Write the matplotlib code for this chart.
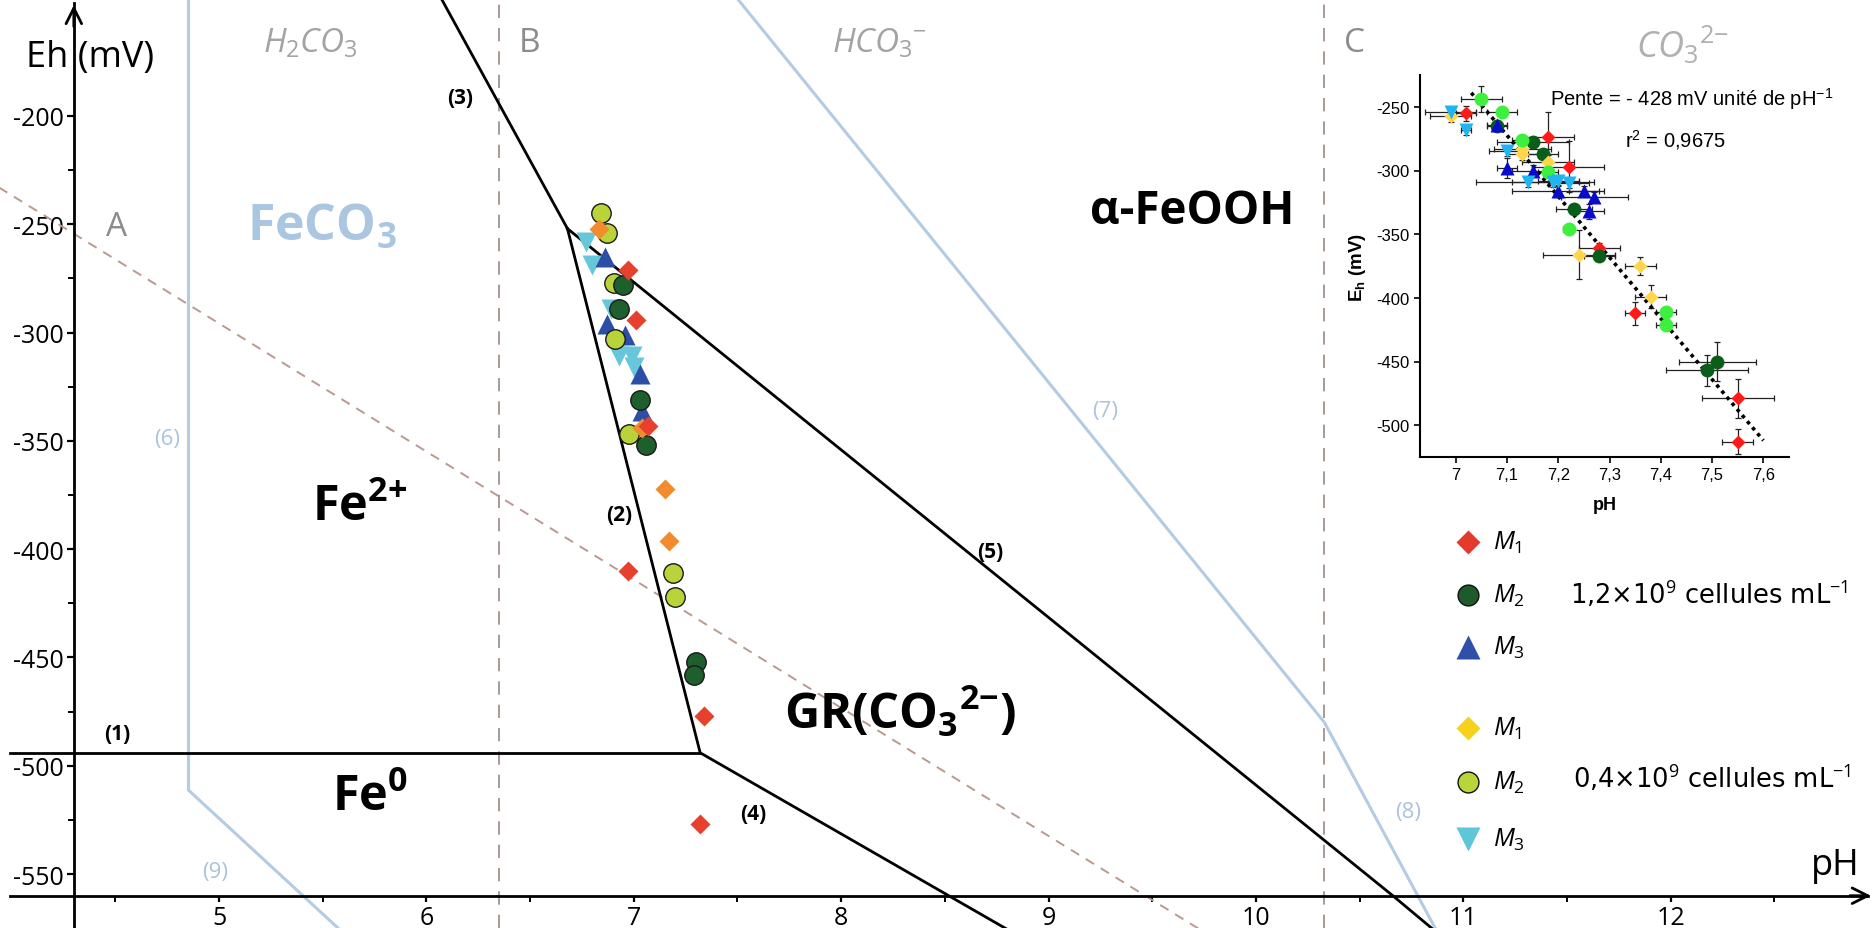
import matplotlib
matplotlib.use('Agg')
import matplotlib.pyplot as plt
from matplotlib.ticker import FixedLocator, FixedFormatter

plt.rcParams['font.family'] = ['Open Sans', 'DejaVu Sans']
plt.rcParams['mathtext.fontset'] = 'custom'
plt.rcParams['mathtext.rm'] = 'Open Sans'
plt.rcParams['mathtext.it'] = 'Open Sans:italic'
plt.rcParams['mathtext.bf'] = 'Open Sans:bold'
plt.rcParams['axes.unicode_minus'] = False

# ---------------- data : Pourbaix diagram lines (pH, Eh mV) ----------------
line1_ph, line1_eh = [3.99, 7.32], [-494, -494]
line2_ph, line2_eh = [6.68, 7.32], [-252, -494]
line3_ph, line3_eh = [6.05, 6.68], [-142, -252]
line4_ph, line4_eh = [7.32, 8.90], [-494, -581]
line5_ph, line5_eh = [6.68, 10.66, 10.86], [-252, -560, -576]
line6_ph, line6_eh = [4.85, 4.85], [-140, -511]
line9_ph, line9_eh = [4.85, 5.62], [-511, -579]
line7_ph, line7_eh = [7.45, 10.33], [-140, -480]
line8_ph, line8_eh = [10.33, 10.87], [-480, -576]
h2_ph, h2_eh = [3.90, 9.85], [-230.7, -582.7]
pka_ph = [6.35, 10.33]

x_ticks = [5, 6, 7, 8, 9, 10, 11, 12]
x_minor = [4.5, 5.5, 6.5, 7.5, 8.5, 9.5, 10.5, 11.5, 12.5]
y_ticks = [-550, -500, -450, -400, -350, -300, -250, -200]
y_minor = [-525, -475, -425, -375, -325, -275, -225]

# ---------------- data : measurements on main diagram ----------------
red_main_ph = [6.97, 7.01, 7.07, 6.97, 7.34, 7.32]
red_main_eh = [-271, -294, -343, -410, -477, -527]
org_main_ph = [6.83, 7.04, 7.15, 7.17]
org_main_eh = [-252, -344, -372, -396]
dkg_main_ph = [6.95, 6.93, 7.03, 7.06, 7.30, 7.29]
dkg_main_eh = [-278, -289, -331, -352, -452, -458]
ltg_main_ph = [6.84, 6.87, 6.905, 6.91, 6.975, 7.19, 7.20]
ltg_main_eh = [-245, -254, -277, -303, -347, -411, -422]
blu_main_ph = [6.86, 6.87, 6.96, 7.03, 7.04]
blu_main_eh = [-265, -296, -301, -319, -336]
cya_main_ph = [6.77, 6.80, 6.89, 6.93, 6.99, 7.00]
cya_main_eh = [-258, -269, -289, -311, -311, -316]

# ---------------- data : inset ----------------
red_ph = [7.02, 7.18, 7.22, 7.28, 7.35, 7.55, 7.55]
red_eh = [-255, -274, -297, -361, -412, -479, -513]
red_xe = [0.02, 0.05, 0.07, 0.04, 0.02, 0.07, 0.03]
red_ye = [6, 20, 20, 4, 9, 15, 10]
dkg_ph = [7.08, 7.15, 7.17, 7.23, 7.28, 7.49, 7.51]
dkg_eh = [-265, -278, -287, -330, -367, -457, -450]
dkg_xe = [0.02, 0.07, 0.03, 0.035, 0.03, 0.08, 0.075]
dkg_ye = [4, 4, 4, 4, 4, 12, 15]
blu_ph = [7.08, 7.10, 7.15, 7.20, 7.25, 7.27, 7.26]
blu_eh = [-264, -298, -300, -316, -316, -321, -332]
blu_xe = [0.02, 0.02, 0.04, 0.09, 0.03, 0.065, 0.03]
blu_ye = [4, 8, 4, 5, 4, 4, 6]
yel_ph = [6.99, 7.13, 7.13, 7.18, 7.24, 7.36, 7.38]
yel_eh = [-257, -283, -287, -293, -366, -375, -399]
yel_xe = [0.04, 0.055, 0.03, 0.05, 0.07, 0.03, 0.03]
yel_ye = [5, 5, 5, 5, 19, 7, 9]
grn_ph = [7.05, 7.09, 7.13, 7.18, 7.22, 7.41, 7.41]
grn_eh = [-244, -254, -276, -301, -346, -411, -421]
grn_xe = [0.04, 0.03, 0.02, 0.02, 0.01, 0.02, 0.02]
grn_ye = [10, 4, 4, 4, 3, 4, 4]
cya_ph = [6.99, 7.02, 7.10, 7.14, 7.19, 7.20, 7.22]
cya_eh = [-254, -268, -285, -309, -309, -308, -310]
cya_xe = [0.05, 0.01, 0.035, 0.10, 0.08, 0.04, 0.04]
cya_ye = [3, 4, 4, 4, 4, 4, 4]
fit_ph = [7.03, 7.60]
fit_eh = [-239, -512]
in_xticks = [7.0, 7.1, 7.2, 7.3, 7.4, 7.5, 7.6]
in_xlabels = ['7', '7,1', '7,2', '7,3', '7,4', '7,5', '7,6']
in_yticks = [-250, -300, -350, -400, -450, -500]
in_ylabels = ['-250', '-300', '-350', '-400', '-450', '-500']

# ---------------- figure ----------------
W, H = 1874, 929
fig = plt.figure(figsize=(W / 100, H / 100), dpi=100)
ax = fig.add_axes([0, 0, 1, 1])
ax.set_xlim(3.944, 12.98)
ax.set_ylim(-574.9, -146.0)
for s in ['top', 'right']:
    ax.spines[s].set_visible(False)
ax.spines['left'].set_position(('data', 4.30))
ax.spines['bottom'].set_position(('data', -560))
ax.spines['bottom'].set_bounds(3.99, 12.95)
ax.spines['left'].set_bounds(-574.9, -148)
for s in ['left', 'bottom']:
    ax.spines[s].set_linewidth(2)
ax.xaxis.set_major_locator(FixedLocator(x_ticks))
ax.xaxis.set_minor_locator(FixedLocator(x_minor))
ax.yaxis.set_major_locator(FixedLocator(y_ticks))
ax.yaxis.set_minor_locator(FixedLocator(y_minor))
ax.tick_params(which='major', length=5, width=1.6, labelsize=18, direction='out', pad=2)
ax.tick_params(which='minor', length=4, width=1.4, direction='out')
ax.tick_params(axis='x', which='major', length=4, pad=3)

ax.annotate('', xy=(12.978, -560), xytext=(12.85, -560),
            arrowprops=dict(arrowstyle='->', lw=2, color='k', mutation_scale=28))
ax.annotate('', xy=(4.30, -147.5), xytext=(4.30, -160),
            arrowprops=dict(arrowstyle='->', lw=2, color='k', mutation_scale=28))

blue_line = '#b3cbe3'
for xs, ys in [(line6_ph, line6_eh), (line9_ph, line9_eh), (line7_ph, line7_eh), (line8_ph, line8_eh)]:
    ax.plot(xs, ys, color=blue_line, lw=2.2, solid_capstyle='butt', zorder=2)
ax.plot(h2_ph, h2_eh, color='#b89a90', lw=1.4, ls=(0, (5, 4)), zorder=2)
for p in pka_ph:
    ax.axvline(p, color='#9a8a84', lw=1.2, ls=(0, (8, 6)), zorder=2)
for xs, ys in [(line1_ph, line1_eh), (line2_ph, line2_eh), (line3_ph, line3_eh),
               (line4_ph, line4_eh), (line5_ph, line5_eh)]:
    ax.plot(xs, ys, color='k', lw=2.0, zorder=3)

ms_c = 14
ax.plot(cya_main_ph, cya_main_eh, 'v', color='#66c6da', ms=ms_c, mec='none', zorder=4)
ax.plot(blu_main_ph, blu_main_eh, '^', color='#2c4ea6', ms=ms_c, mec='none', zorder=4)
ax.plot(ltg_main_ph, ltg_main_eh, 'o', color='#b9d43b', ms=ms_c, mec='#1a1a1a', mew=1, zorder=4)
ax.plot(dkg_main_ph, dkg_main_eh, 'o', color='#1e5f2d', ms=ms_c, mec='#1a1a1a', mew=1, zorder=4)
ax.plot(org_main_ph, org_main_eh, 'D', color='#f28b2c', ms=10.5, mec='none', zorder=5)
ax.plot(red_main_ph, red_main_eh, 'D', color='#e8402f', ms=10.5, mec='none', zorder=5)


def ftxt(x, y, s, **kw):
    ha = kw.pop('ha', 'center')
    va = kw.pop('va', 'center')
    return fig.text(x / W, 1 - y / H, s, ha=ha, va=va, **kw)


gray = '#a3a3a3'
ftxt(90, 58, 'Eh (mV)', fontsize=26)
ftxt(310, 44, r'$\mathit{H_2CO_3}$', fontsize=24, color=gray)
ftxt(530, 44, 'B', fontsize=24, color='#8c8c8c')
ftxt(880, 44, r'$\mathit{HCO_3{}^{-}}$', fontsize=24, color=gray)
ftxt(1355, 44, 'C', fontsize=24, color='#8c8c8c')
ftxt(1682, 46, r'$\mathit{CO_3{}^{2{-}}}$', fontsize=26, color='#b0b0b0')
ftxt(117, 228, 'A', fontsize=24, color='#8c8c8c')
ftxt(322, 228, r'$\mathbf{FeCO_3}$', fontsize=36, color='#abc6e0')
ftxt(1192, 212, 'α-FeOOH', fontsize=33, fontweight='bold')
ftxt(360, 508, r'$\mathbf{Fe^{2{+}}}$', fontsize=35)
ftxt(900, 713, r'$\mathbf{GR(CO_3{}^{2{-}})}$', fontsize=35)
ftxt(370, 798, r'$\mathbf{Fe^{0}}$', fontsize=35)
for lbl, (x, y) in zip(['(1)', '(2)', '(3)', '(4)', '(5)'],
                       [(117, 735), (619, 516), (460, 98), (753, 815), (990, 553)]):
    ftxt(x, y, lbl, fontsize=15, fontweight='bold')
for lbl, (x, y) in zip(['(6)', '(7)', '(8)', '(9)'],
                       [(167, 440), (1105, 412), (1408, 813), (215, 873)]):
    ftxt(x, y, lbl, fontsize=16, color='#aac3de')
ftxt(1835, 866, 'pH', fontsize=26)

# legend
leg_x = 1468
leg = [('D', '#e23b2e', 12, 'none', 543, r'$\mathit{M_1}$'),
       ('o', '#1f5a2a', 15, '#111111', 596, r'$\mathit{M_2}$'),
       ('^', '#2f4fa8', 17, 'none', 648, r'$\mathit{M_3}$'),
       ('D', '#f6d21c', 12, 'none', 729, r'$\mathit{M_1}$'),
       ('o', '#b8d63a', 15, '#111111', 783, r'$\mathit{M_2}$'),
       ('v', '#5ec6d6', 17, 'none', 840, r'$\mathit{M_3}$')]
for m, c, s, ec, y, t in leg:
    ax.plot([leg_x / W], [1 - y / H], m, color=c, ms=s, mec=ec, mew=1,
            transform=fig.transFigure, clip_on=False, zorder=6)
    ftxt(leg_x + 25, y, t, fontsize=18, ha='left')
ftxt(1570, 596, '1,2×10$^{9}$ cellules mL$^{-1}$', fontsize=18.5, ha='left',
     family='DejaVu Sans')
ftxt(1573, 780, '0,4×10$^{9}$ cellules mL$^{-1}$', fontsize=18.5, ha='left',
     family='DejaVu Sans')

# ---------------- inset ----------------
axi = fig.add_axes([1420 / W, 1 - 458 / H, (1789 - 1420) / W, (458 - 76) / H])
axi.patch.set_alpha(0)
axi.set_xlim(6.93, 7.65)
axi.set_ylim(-525, -225)
for s in ['top', 'right']:
    axi.spines[s].set_visible(False)
for s in ['left', 'bottom']:
    axi.spines[s].set_linewidth(1.5)
axi.xaxis.set_major_locator(FixedLocator(in_xticks))
axi.xaxis.set_major_formatter(FixedFormatter(in_xlabels))
axi.yaxis.set_major_locator(FixedLocator(in_yticks))
axi.yaxis.set_major_formatter(FixedFormatter(in_ylabels))
axi.tick_params(length=4, width=1.2, labelsize=12, direction='out')
for lab in axi.get_xticklabels() + axi.get_yticklabels():
    lab.set_fontfamily('Liberation Sans')
axi.set_xlabel('pH', fontsize=13, fontweight='bold', family='Liberation Sans', labelpad=10)
axi.set_ylabel(r'E$_{\mathregular{h}}$ (mV)', fontsize=13.5, fontweight='bold',
               family='Liberation Sans', labelpad=6)

axi.plot(fit_ph, fit_eh, color='k', lw=2.6, ls=(0, (1, 1.2)), zorder=2)
series = [(red_ph, red_eh, red_xe, red_ye, 'D', '#ff1a1a', 7.5),
          (dkg_ph, dkg_eh, dkg_xe, dkg_ye, 'o', '#0b5e1a', 10),
          (blu_ph, blu_eh, blu_xe, blu_ye, '^', '#0a0acc', 10),
          (yel_ph, yel_eh, yel_xe, yel_ye, 'D', '#ffd54a', 7.5),
          (grn_ph, grn_eh, grn_xe, grn_ye, 'o', '#3ef03e', 10),
          (cya_ph, cya_eh, cya_xe, cya_ye, 'v', '#1fb5f0', 10)]
for ph, eh, xe, ye, m, c, s in series:
    axi.errorbar(ph, eh, xerr=xe, yerr=ye, fmt='none', ecolor='#222222',
                 elinewidth=0.9, capsize=2, capthick=0.9, zorder=1)
for ph, eh, xe, ye, m, c, s in series:
    axi.plot(ph, eh, m, color=c, ms=s, mec='none', zorder=3)

ftxt(1550, 99, r'Pente = - 428 mV unité de pH$^{\mathregular{-1}}$', fontsize=14.5,
     ha='left', family='Liberation Sans')
ftxt(1625, 140, r'r$^{\mathregular{2}}$ = 0,9675', fontsize=14.5, ha='left',
     family='Liberation Sans')

fig.savefig('out.png', dpi=100, facecolor='white')
